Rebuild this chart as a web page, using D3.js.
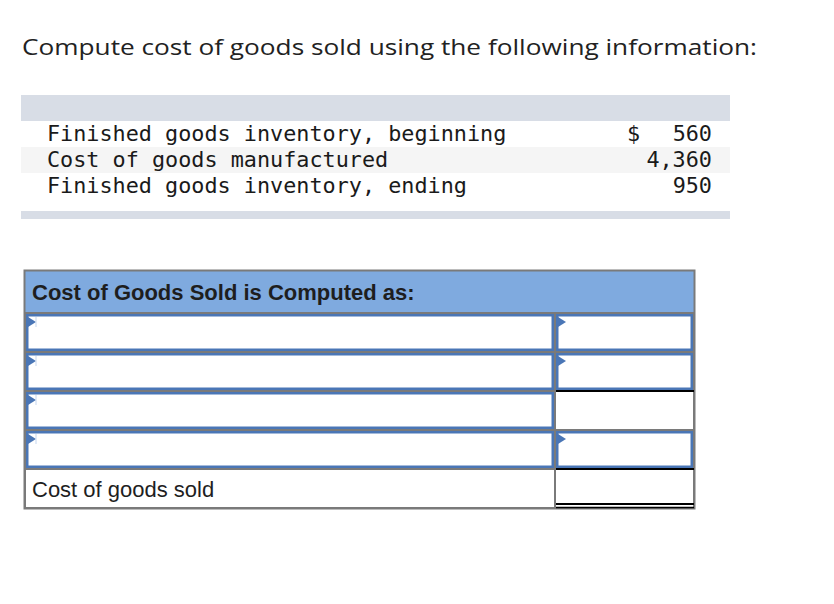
<!DOCTYPE html>
<html>
<head>
<meta charset="utf-8">
<script src="https://cdn.jsdelivr.net/npm/d3@7"></script>
<style>
  body { margin: 0; background: #fff; }
</style>
</head>
<body>
<script>
// data
const title = "Compute cost of goods sold using the following information:";
const infoLabels = ["Finished goods inventory, beginning", "Cost of goods manufactured", "Finished goods inventory, ending"];
const infoValues = [560, 4360, 950];
const headerText = "Cost of Goods Sold is Computed as:";
const rowLabels = ["", "", "", "", "Cost of goods sold"];
const leftInput = [true, true, true, true, false];
const rightInput = [true, true, false, true, false];
const rightRule = ["none", "single", "none", "single", "double"];

const w = 834, h = 604;
const blue = "#4a76b6", grey = "#7a7a7a";

const svg = d3.select("body").append("svg")
  .attr("width", w)
  .attr("height", h);

// title
svg.append("text")
  .attr("x", 22).attr("y", 55)
  .attr("font-family", "'Open Sans', Lato, sans-serif")
  .attr("font-size", 22.5)
  .attr("textLength", 735)
  .attr("lengthAdjust", "spacingAndGlyphs")
  .attr("fill", "#222")
  .text(title);

// info table
const iy = d3.scaleBand().domain(d3.range(infoLabels.length)).range([121, 199]);

svg.append("rect").attr("x", 21).attr("y", 95).attr("width", 709).attr("height", 26).attr("fill", "#d8dde6");
svg.append("rect").attr("x", 21).attr("y", 211).attr("width", 709).attr("height", 8).attr("fill", "#d8dde6");

svg.selectAll(".irow")
  .data(infoLabels).enter()
  .append("rect")
  .attr("x", 21).attr("width", 709)
  .attr("y", (d, i) => iy(i)).attr("height", iy.bandwidth())
  .attr("fill", (d, i) => i % 2 ? "#f5f5f5" : "#fff");

const mono = "'DejaVu Sans Mono', monospace";
svg.selectAll(".ilabel")
  .data(infoLabels).enter()
  .append("text")
  .attr("x", 47).attr("y", (d, i) => iy(i) + 19.5)
  .attr("font-family", mono).attr("font-size", 21.8)
  .attr("fill", "#1a1a1a")
  .text(d => d);

const fmt = d3.format(",");
svg.selectAll(".ival")
  .data(infoValues).enter()
  .append("text")
  .attr("x", 712).attr("y", (d, i) => iy(i) + 19.5)
  .attr("text-anchor", "end")
  .attr("font-family", mono).attr("font-size", 21.8)
  .attr("fill", "#1a1a1a")
  .text(d => fmt(d));

svg.append("text")
  .attr("x", 627).attr("y", iy(0) + 19.5)
  .attr("font-family", mono).attr("font-size", 21.8)
  .attr("fill", "#1a1a1a")
  .text("$");

// computation grid
const x0 = 25, xs = 555, x1 = 694;
const ry = d3.scaleBand().domain(d3.range(rowLabels.length)).range([313, 508]);

svg.append("rect")
  .attr("x", x0).attr("y", 271).attr("width", x1 - x0).attr("height", 42)
  .attr("fill", "#7faadf");

svg.append("text")
  .attr("x", 32).attr("y", 300)
  .attr("font-family", "'Liberation Sans', Arial, sans-serif")
  .attr("font-weight", "bold").attr("font-size", 22)
  .attr("fill", "#1e1e1e")
  .text(headerText);

const cells = [];
rowLabels.forEach((d, i) => {
  cells.push({ x: x0, w: xs - x0, i: i, input: leftInput[i], label: d });
  cells.push({ x: xs, w: x1 - xs, i: i, input: rightInput[i], rule: rightRule[i] });
});

// grey grid lines
svg.selectAll(".cell")
  .data(cells).enter()
  .append("rect")
  .attr("x", d => d.x).attr("y", d => ry(d.i))
  .attr("width", d => d.w).attr("height", ry.bandwidth())
  .attr("fill", "#fff")
  .attr("stroke", grey).attr("stroke-width", 2);

// blue input boxes
const inputs = cells.filter(d => d.input);
svg.selectAll(".inp")
  .data(inputs).enter()
  .append("rect")
  .attr("x", d => d.x + 2.25).attr("y", d => ry(d.i) + 2.25)
  .attr("width", d => d.w - 4.5).attr("height", ry.bandwidth() - 4.5)
  .attr("fill", "#fff")
  .attr("stroke", blue).attr("stroke-width", 2.5);

svg.selectAll(".tri")
  .data(inputs).enter()
  .append("path")
  .attr("d", d => {
    const x = d.x + 3, y = ry(d.i) + 4;
    return `M${x},${y}L${x + 8},${y + 5}L${x},${y + 10}Z`;
  })
  .attr("fill", blue);

svg.selectAll(".caret")
  .data(inputs.filter(d => d.x === x0)).enter()
  .append("line")
  .attr("x1", 36).attr("x2", 36)
  .attr("y1", d => ry(d.i) + 4).attr("y2", d => ry(d.i) + 14)
  .attr("stroke", "#c5d6ee").attr("stroke-width", 1);

// outer border
svg.append("rect")
  .attr("x", x0 - 0.5).attr("y", 270.5).attr("width", x1 - x0 + 1).attr("height", 508 - 270)
  .attr("fill", "none")
  .attr("stroke", grey).attr("stroke-width", 2);

// total rules
const ruled = cells.filter(d => d.rule && d.rule !== "none");
svg.selectAll(".rule1")
  .data(ruled).enter()
  .append("line")
  .attr("x1", xs + 1).attr("x2", x1)
  .attr("y1", d => ry(d.i) + ry.bandwidth() - (d.rule === "double" ? 4 : 0))
  .attr("y2", d => ry(d.i) + ry.bandwidth() - (d.rule === "double" ? 4 : 0))
  .attr("stroke", "#000").attr("stroke-width", 2);

svg.selectAll(".rule2")
  .data(ruled.filter(d => d.rule === "double")).enter()
  .append("line")
  .attr("x1", xs + 1).attr("x2", x1)
  .attr("y1", d => ry(d.i) + ry.bandwidth() - 0.5)
  .attr("y2", d => ry(d.i) + ry.bandwidth() - 0.5)
  .attr("stroke", "#000").attr("stroke-width", 1.5);

// row labels
svg.selectAll(".rlabel")
  .data(cells.filter(d => d.label)).enter()
  .append("text")
  .attr("x", 32).attr("y", d => ry(d.i) + 28)
  .attr("font-family", "'Liberation Sans', Arial, sans-serif")
  .attr("font-size", 22)
  .attr("fill", "#1e1e1e")
  .text(d => d.label);
</script>
</body>
</html>
